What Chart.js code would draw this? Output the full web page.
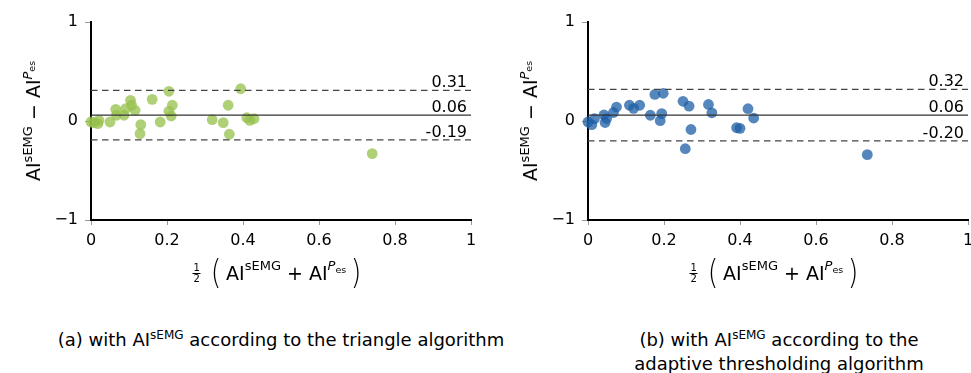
<!DOCTYPE html>
<html>
<head>
<meta charset="utf-8">
<script src="https://cdn.jsdelivr.net/npm/chart.js@4.4.1/dist/chart.umd.min.js"></script>
<style>
  html, body { margin:0; padding:0; background:#fff; overflow:hidden; }
  #wrap { position:relative; width:971px; height:373px; overflow:hidden; font-family:"DejaVu Sans", sans-serif; color:#000; }
  .cv { position:absolute; top:2px; width:500px; height:260px; }
  .ytitle { position:absolute; white-space:nowrap; font-size:19px; transform:translate(-50%,-50%) rotate(-90deg); }
  .xtitle { position:absolute; white-space:nowrap; font-size:19px; transform:translate(-50%,-50%); display:flex; align-items:center; }
  sup { font-size:13px; vertical-align:0; position:relative; top:-8px; }
  sup sub { font-size:9.5px; position:relative; top:3px; vertical-align:0; }
  .frac { display:inline-flex; flex-direction:column; align-items:center; font-size:10px; line-height:10px; margin-right:6px; }
  .frac span:first-child { border-bottom:1px solid #000; padding:0 1px; }
  .paren { font-size:34px; font-weight:200; margin:0 3px; position:relative; top:-1px; transform:scaleX(0.8); display:inline-block; }
  .cap { position:absolute; white-space:nowrap; font-size:18px; transform:translateX(-50%); text-align:center; line-height:22px; }
  .cap sup { font-size:12px; top:-7px; }
</style>
</head>
<body>
<div id="wrap">
  <div class="cv" style="left:0px"><canvas id="c1" width="500" height="260"></canvas></div>
  <div class="cv" style="left:497px"><canvas id="c2" width="500" height="260"></canvas></div>

  <div class="ytitle" style="left:33px; top:121px">AI<sup>sEMG</sup> − AI<sup><i>P</i><sub>es</sub></sup></div>
  <div class="ytitle" style="left:530px; top:121px">AI<sup>sEMG</sup> − AI<sup><i>P</i><sub>es</sub></sup></div>

  <div class="xtitle" style="left:279px; top:273px"><span class="frac"><span>1</span><span>2</span></span><span class="paren">(</span>AI<sup>sEMG</sup>&nbsp;+ AI<sup><i>P</i><sub>es</sub></sup><span class="paren">)</span></div>
  <div class="xtitle" style="left:776px; top:273px"><span class="frac"><span>1</span><span>2</span></span><span class="paren">(</span>AI<sup>sEMG</sup>&nbsp;+ AI<sup><i>P</i><sub>es</sub></sup><span class="paren">)</span></div>

  <div class="cap" style="left:281px; top:329px">(a) with AI<sup>sEMG</sup> according to the triangle algorithm</div>
  <div class="cap" style="left:779px; top:329px">(b) with AI<sup>sEMG</sup> according to the<br>adaptive thresholding algorithm</div>
</div>
<script>
// ---- data ----
const xTickValues = [0, 0.2, 0.4, 0.6, 0.8, 1];
const yTickValues = [-1, 0, 1];

// (a) triangle algorithm
const aX = [0.0, 0.008, 0.018, 0.021, 0.05, 0.065, 0.067, 0.087, 0.091, 0.104, 0.107, 0.116, 0.131, 0.129, 0.161, 0.182, 0.205, 0.205, 0.214, 0.211, 0.319, 0.348, 0.361, 0.364, 0.394, 0.41, 0.418, 0.429, 0.74];
const aY = [-0.01, -0.017, -0.027, 0.007, -0.01, 0.118, 0.058, 0.058, 0.124, 0.209, 0.159, 0.108, -0.037, -0.128, 0.219, -0.01, 0.30, 0.098, 0.159, 0.05, 0.013, -0.017, 0.159, -0.134, 0.326, 0.033, 0.007, 0.023, -0.33];
const aLimits = [0.31, 0.06, -0.19]; // upper LoA, mean, lower LoA

// (b) adaptive thresholding algorithm
const bX = [0.0, 0.01, 0.017, 0.042, 0.045, 0.049, 0.067, 0.075, 0.109, 0.12, 0.136, 0.164, 0.176, 0.198, 0.19, 0.194, 0.25, 0.266, 0.271, 0.256, 0.317, 0.326, 0.391, 0.40, 0.421, 0.436, 0.735];
const bY = [-0.01, -0.037, 0.023, 0.061, -0.015, 0.025, 0.086, 0.141, 0.159, 0.128, 0.159, 0.058, 0.268, 0.28, 0.003, 0.074, 0.199, 0.15, -0.086, -0.28, 0.167, 0.083, -0.068, -0.074, 0.124, 0.03, -0.34];
const bLimits = [0.32, 0.06, -0.20];

const FONT = '"DejaVu Sans", sans-serif';

const limitLabels = {
  id: 'limitLabels',
  afterDatasetsDraw(chart, args, opts) {
    const ctx = chart.ctx, xs = chart.scales.x, ys = chart.scales.y;
    ctx.save();
    ctx.font = '16px ' + FONT;
    ctx.fillStyle = '#000';
    ctx.textAlign = 'right';
    ctx.textBaseline = 'alphabetic';
    opts.limits.forEach(v => {
      const px = xs.getPixelForValue(xs.max) - 4;
      const py = ys.getPixelForValue(v) - 3;
      ctx.fillText(v.toFixed(2), px, py);
    });
    ctx.restore();
  }
};

function makeChart(id, xs, ys, limits, color) {
  const pts = xs.map((x, i) => ({x: x, y: ys[i]}));
  const line = v => [{x: xTickValues[0], y: v}, {x: xTickValues[xTickValues.length - 1], y: v}];
  return new Chart(document.getElementById(id), {
    type: 'scatter',
    data: {
      datasets: [
        { type: 'line', data: line(limits[0]), borderColor: '#444', borderWidth: 1.3, borderDash: [6.5, 4.5], pointRadius: 0, fill: false },
        { type: 'line', data: line(limits[1]), borderColor: '#333', borderWidth: 1.3, pointRadius: 0, fill: false },
        { type: 'line', data: line(limits[2]), borderColor: '#444', borderWidth: 1.3, borderDash: [6.5, 4.5], pointRadius: 0, fill: false },
        { data: pts, backgroundColor: color, borderWidth: 0, pointRadius: 5.4, pointHoverRadius: 5.4, clip: false }
      ]
    },
    options: {
      responsive: false,
      animation: false,
      events: [],
      layout: { padding: { top: 20, right: 29, left: 0, bottom: 0 } },
      plugins: { legend: { display: false }, tooltip: { enabled: false }, limitLabels: { limits: limits } },
      scales: {
        x: {
          type: 'linear', min: 0, max: 1,
          afterBuildTicks: s => { s.ticks = xTickValues.map(v => ({value: v})); },
          afterFit: s => { s.height = 42; s.paddingRight = 0; s.paddingLeft = 0; },
          ticks: { font: { family: FONT, size: 16 }, color: '#000', padding: 6, maxRotation: 0, autoSkip: false,
                   callback: v => String(v) },
          grid: { drawOnChartArea: false, drawTicks: true, tickLength: 5, color: '#999' },
          border: { display: true, color: '#000', width: 2 }
        },
        y: {
          type: 'linear', min: -1, max: 1,
          afterBuildTicks: s => { s.ticks = yTickValues.map(v => ({value: v})); },
          afterFit: s => { s.width = 91; s.paddingTop = 0; s.paddingBottom = 0; },
          ticks: { font: { family: FONT, size: 16 }, color: '#000', padding: 7,
                   callback: v => (v < 0 ? '\u2212' + Math.abs(v) : String(v)) },
          grid: { drawOnChartArea: false, drawTicks: true, tickLength: 6, color: '#999' },
          border: { display: true, color: '#000', width: 2 }
        }
      }
    },
    plugins: [limitLabels]
  });
}

makeChart('c1', aX, aY, aLimits, 'rgba(150,192,75,0.75)');
makeChart('c2', bX, bY, bLimits, 'rgba(30,95,165,0.75)');
</script>
</body>
</html>
